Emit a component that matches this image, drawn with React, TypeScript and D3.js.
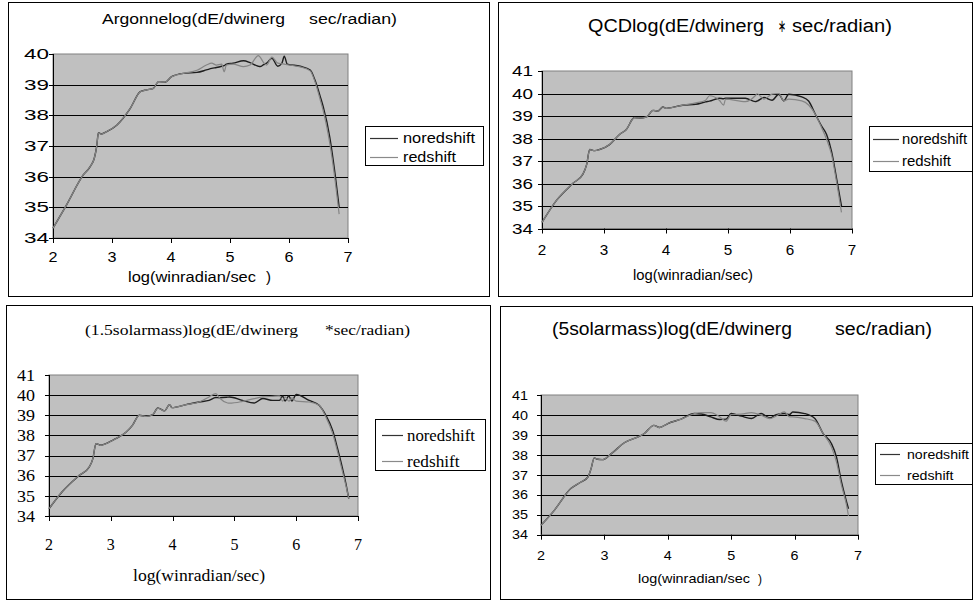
import React from 'react'
import * as d3 from 'd3'

// shared axis values
const xTicks = [2, 3, 4, 5, 6, 7]
const yTicks40 = [34, 35, 36, 37, 38, 39, 40]
const yTicks41 = [34, 35, 36, 37, 38, 39, 40, 41]
const seriesNames = ['noredshift', 'redshift']

// Argonne
const xs1 = [2.0, 2.23, 2.51, 2.63, 2.7, 2.74, 2.77, 2.82, 2.91, 3.08, 3.31, 3.48, 3.59, 3.7, 3.79, 3.9, 4.01, 4.21, 4.44, 4.6, 4.69, 4.77, 4.86, 4.9, 4.94, 5.05, 5.23, 5.34, 5.48, 5.51, 5.57, 5.62, 5.71, 5.81, 5.88, 5.92, 5.97, 6.19, 6.36, 6.44, 6.53, 6.58, 6.69, 6.78, 6.85]
const noRed1 = [34.32, 35.08, 36.05, 36.33, 36.6, 36.98, 37.43, 37.39, 37.47, 37.68, 38.23, 38.77, 38.83, 38.88, 39.1, 39.08, 39.26, 39.37, 39.4, 39.48, 39.53, 39.56, 39.6, 39.62, 39.67, 39.7, 39.78, 39.72, 39.6, 39.59, 39.65, 39.7, 39.86, 39.6, 39.7, 39.93, 39.67, 39.6, 39.48, 39.15, 38.61, 38.28, 37.3, 36.1, 35.0]
const red1 = [34.32, 35.08, 36.05, 36.33, 36.6, 36.98, 37.43, 37.39, 37.47, 37.68, 38.23, 38.77, 38.83, 38.88, 39.1, 39.08, 39.26, 39.37, 39.47, 39.64, 39.7, 39.64, 39.67, 39.42, 39.64, 39.67, 39.59, 39.64, 39.95, 39.9, 39.72, 39.64, 39.9, 39.7, 39.68, 39.67, 39.65, 39.58, 39.45, 39.1, 38.5, 38.15, 37.1, 35.9, 34.78]

// QCD
const xs2 = [2.0, 2.24, 2.5, 2.66, 2.72, 2.77, 2.85, 2.93, 3.09, 3.25, 3.36, 3.49, 3.57, 3.69, 3.79, 3.87, 3.95, 4.0, 4.27, 4.48, 4.64, 4.7, 4.86, 4.93, 4.96, 5.28, 5.44, 5.47, 5.58, 5.71, 5.82, 5.9, 5.98, 6.19, 6.3, 6.41, 6.51, 6.59, 6.67, 6.75, 6.83]
const noRed2 = [34.27, 35.27, 36.01, 36.42, 36.84, 37.51, 37.46, 37.51, 37.73, 38.18, 38.4, 38.93, 38.9, 38.96, 39.25, 39.22, 39.4, 39.34, 39.48, 39.52, 39.63, 39.66, 39.79, 39.77, 39.79, 39.79, 39.64, 39.66, 39.82, 39.7, 39.97, 39.67, 39.97, 39.85, 39.67, 39.07, 38.55, 38.18, 37.43, 36.24, 35.0]
const red2 = [34.27, 35.27, 36.01, 36.42, 36.84, 37.51, 37.46, 37.51, 37.73, 38.18, 38.4, 38.93, 38.9, 38.96, 39.25, 39.22, 39.4, 39.34, 39.48, 39.58, 39.7, 39.9, 39.7, 39.48, 39.75, 39.64, 39.9, 39.99, 39.75, 39.97, 40.0, 39.67, 39.75, 39.67, 39.49, 39.07, 38.48, 37.96, 37.28, 36.09, 34.72]

// 1.5 solar mass
const xs3 = [2.0, 2.22, 2.49, 2.65, 2.71, 2.76, 2.84, 2.92, 3.08, 3.25, 3.35, 3.46, 3.57, 3.68, 3.76, 3.87, 3.95, 3.99, 4.22, 4.43, 4.59, 4.7, 4.76, 4.89, 4.92, 5.13, 5.32, 5.46, 5.62, 5.73, 5.78, 5.82, 5.88, 5.93, 6.0, 6.21, 6.37, 6.48, 6.59, 6.67, 6.75, 6.81, 6.85]
const noRed3 = [34.36, 35.23, 36.02, 36.43, 36.85, 37.59, 37.51, 37.59, 37.84, 38.17, 38.5, 39.0, 38.95, 39.03, 39.36, 39.22, 39.53, 39.38, 39.53, 39.66, 39.74, 39.88, 39.87, 39.9, 39.91, 39.74, 39.61, 39.83, 39.74, 39.74, 39.96, 39.71, 39.96, 39.71, 40.03, 39.74, 39.5, 39.0, 38.25, 37.34, 36.35, 35.52, 34.86]
const red3 = [34.36, 35.23, 36.02, 36.43, 36.85, 37.59, 37.51, 37.59, 37.84, 38.17, 38.5, 39.0, 38.95, 39.03, 39.36, 39.22, 39.53, 39.38, 39.53, 39.66, 39.91, 40.08, 39.86, 39.61, 39.6, 39.69, 39.83, 39.91, 39.94, 39.96, 39.7, 39.91, 39.7, 39.86, 39.7, 39.66, 39.5, 38.92, 38.09, 37.18, 36.19, 35.44, 34.86]

// 5 solar mass
const xs4 = [2.0, 2.21, 2.47, 2.63, 2.74, 2.79, 2.84, 2.89, 2.97, 3.11, 3.32, 3.53, 3.63, 3.78, 3.87, 4.0, 4.21, 4.42, 4.53, 4.68, 4.82, 4.92, 5.0, 5.16, 5.32, 5.47, 5.61, 5.71, 5.84, 5.92, 5.97, 6.16, 6.32, 6.45, 6.58, 6.66, 6.74, 6.82, 6.85]
const noRed4 = [34.47, 35.22, 36.31, 36.64, 36.89, 37.31, 37.85, 37.78, 37.76, 38.06, 38.62, 38.9, 39.07, 39.48, 39.37, 39.57, 39.79, 40.07, 40.05, 39.9, 39.77, 39.79, 40.07, 39.94, 39.82, 40.07, 39.85, 40.02, 40.07, 40.02, 40.15, 40.07, 39.82, 39.07, 38.57, 37.9, 36.64, 35.64, 35.3]
const red4 = [34.47, 35.22, 36.31, 36.64, 36.89, 37.31, 37.85, 37.78, 37.76, 38.06, 38.62, 38.9, 39.07, 39.48, 39.37, 39.57, 39.79, 40.07, 40.12, 40.12, 39.9, 39.69, 40.02, 40.04, 40.12, 39.99, 39.82, 39.95, 40.15, 39.9, 39.9, 39.82, 39.69, 39.07, 38.4, 37.65, 36.47, 35.47, 34.94]

const SANS = 'Liberation Sans, Arial, sans-serif'
const SERIF = 'Liberation Serif, Times New Roman, serif'

interface Piece { text: string; x: number; w: number }
interface PanelCfg {
    frame: number[]
    plot: number[]
    yTicks: number[]
    xs: number[]
    noRed: number[]
    red: number[]
    font: string
    title: Piece[]
    titleY: number
    titleSize: number
    tickSize: number
    yLabelRight: number
    yLabelW: number
    xLabelW: number
    xTickY: number
    xLabel: Piece[]
    xLabelY: number
    xLabelSize: number
    legend: number[]
    legendRows: number[]
    legendLine: number[]
    legendTextX: number
    legendW: number[]
    legendSize: number
}

const panels: PanelCfg[] = [
    {
        frame: [8.5, 2.5, 489.5, 296.5], plot: [53, 54, 348, 238], yTicks: yTicks40,
        xs: xs1, noRed: noRed1, red: red1, font: SANS,
        title: [{ text: 'Argonnelog(dE/dwinerg', x: 102, w: 183 }, { text: 'sec/radian)', x: 309, w: 88 }],
        titleY: 24, titleSize: 14, tickSize: 14, yLabelRight: 49, yLabelW: 25, xLabelW: 9, xTickY: 262,
        xLabel: [{ text: 'log(winradian/sec', x: 128, w: 128 }, { text: ')', x: 266, w: 5 }], xLabelY: 282, xLabelSize: 14,
        legend: [365.5, 126.5, 483.5, 165.5], legendRows: [137.7, 156.7], legendLine: [370, 398], legendTextX: 403,
        legendW: [72, 53], legendSize: 14,
    },
    {
        frame: [498.5, 2.5, 972.5, 296.5], plot: [542, 71, 852, 228.5], yTicks: yTicks41,
        xs: xs2, noRed: noRed2, red: red2, font: SANS,
        title: [{ text: 'QCDlog(dE/dwinerg', x: 588, w: 176 }, { text: '∗', x: 778, w: 8 }, { text: 'sec/radian)', x: 792, w: 100 }],
        titleY: 32, titleSize: 18, tickSize: 14, yLabelRight: 533, yLabelW: 21, xLabelW: 8.5, xTickY: 255,
        xLabel: [{ text: 'log(winradian/sec)', x: 633, w: 120 }], xLabelY: 280, xLabelSize: 14,
        legend: [869.5, 126.5, 972.5, 171.5], legendRows: [139, 161], legendLine: [873, 899], legendTextX: 902,
        legendW: [65, 49], legendSize: 14,
    },
    {
        frame: [6.5, 305.5, 490.5, 599.5], plot: [49, 375, 358, 516], yTicks: yTicks41,
        xs: xs3, noRed: noRed3, red: red3, font: SERIF,
        title: [{ text: '(1.5solarmass)log(dE/dwinerg', x: 85, w: 213 }, { text: '*sec/radian)', x: 325, w: 85 }],
        titleY: 335, titleSize: 15, tickSize: 16, yLabelRight: 35, yLabelW: 18, xLabelW: 8, xTickY: 550,
        xLabel: [{ text: 'log(winradian/sec)', x: 133, w: 132 }], xLabelY: 581, xLabelSize: 16,
        legend: [375.5, 419.5, 485.5, 470.5], legendRows: [435, 461], legendLine: [382, 403], legendTextX: 407,
        legendW: [68, 52.5], legendSize: 16,
    },
    {
        frame: [500.5, 306.5, 972.5, 599.5], plot: [541, 395, 858, 534.7], yTicks: yTicks41,
        xs: xs4, noRed: noRed4, red: red4, font: SANS,
        title: [{ text: '(5solarmass)log(dE/dwinerg', x: 552, w: 240 }, { text: 'sec/radian)', x: 835, w: 97 }],
        titleY: 335, titleSize: 18, tickSize: 13, yLabelRight: 528, yLabelW: 16, xLabelW: 8, xTickY: 560,
        xLabel: [{ text: 'log(winradian/sec', x: 638, w: 112 }, { text: ')', x: 758, w: 4 }], xLabelY: 583, xLabelSize: 13.5,
        legend: [875.5, 443.5, 972.5, 484.5], legendRows: [454.3, 475], legendLine: [880, 900], legendTextX: 907,
        legendW: [62, 46.5], legendSize: 13,
    },
]

const Panel: React.FC<{ cfg: PanelCfg }> = ({ cfg }) => {
    const [px0, py0, px1, py1] = cfg.plot
    const yMax = cfg.yTicks[cfg.yTicks.length - 1]
    const x = d3.scaleLinear().domain([2, 7]).range([px0, px1])
    const y = d3.scaleLinear().domain([34, yMax]).range([py1, py0])

    const line = d3
        .line<number>()
        .x((_, i) => x(cfg.xs[i]))
        .y((d) => y(d))
        .curve(d3.curveMonotoneX)

    const [fx0, fy0, fx1, fy1] = cfg.frame
    const [lx0, ly0, lx1, ly1] = cfg.legend
    const lineColors = ['#1e1e1e', '#858585']

    return (
        <g fontFamily={cfg.font} fill="#000">
            <rect x={fx0} y={fy0} width={fx1 - fx0} height={fy1 - fy0} fill="#fff" stroke="#000" strokeWidth={1} />

            {cfg.title.map((p) => (
                <text key={p.text} x={p.x} y={cfg.titleY} fontSize={cfg.titleSize} textLength={p.w} lengthAdjust="spacingAndGlyphs">
                    {p.text}
                </text>
            ))}

            {/* plot area */}
            <rect x={px0} y={py0} width={px1 - px0} height={py1 - py0} fill="#c0c0c0" stroke="#808080" strokeWidth={1} />
            {cfg.yTicks.slice(1, -1).map((t) => (
                <line key={t} x1={px0} x2={px1} y1={Math.round(y(t)) + 0.5} y2={Math.round(y(t)) + 0.5} stroke="#000" strokeWidth={1} />
            ))}

            {/* axes */}
            <line x1={px0 + 0.5} x2={px0 + 0.5} y1={py0} y2={py1} stroke="#000" />
            <line x1={px0} x2={px1} y1={Math.round(py1) + 0.5} y2={Math.round(py1) + 0.5} stroke="#000" />
            {cfg.yTicks.map((t) => (
                <g key={t}>
                    <line x1={px0 - 4} x2={px0} y1={Math.round(y(t)) + 0.5} y2={Math.round(y(t)) + 0.5} stroke="#000" />
                    <text
                        x={cfg.yLabelRight}
                        y={y(t)}
                        dy="0.36em"
                        textAnchor="end"
                        fontSize={cfg.tickSize}
                        textLength={cfg.yLabelW}
                        lengthAdjust="spacingAndGlyphs"
                    >
                        {t}
                    </text>
                </g>
            ))}
            {xTicks.map((t) => (
                <g key={t}>
                    <line x1={Math.round(x(t)) + 0.5} x2={Math.round(x(t)) + 0.5} y1={py1} y2={py1 + 5} stroke="#000" />
                    <text
                        x={x(t) - cfg.xLabelW / 2}
                        y={cfg.xTickY}
                        fontSize={cfg.tickSize}
                        textLength={cfg.xLabelW}
                        lengthAdjust="spacingAndGlyphs"
                    >
                        {t}
                    </text>
                </g>
            ))}

            {/* series */}
            <path d={line(cfg.noRed) || ''} fill="none" stroke={lineColors[0]} strokeWidth={1.4} />
            <path d={line(cfg.red) || ''} fill="none" stroke={lineColors[1]} strokeWidth={1.2} />

            {cfg.xLabel.map((p) => (
                <text key={p.text} x={p.x} y={cfg.xLabelY} fontSize={cfg.xLabelSize} textLength={p.w} lengthAdjust="spacingAndGlyphs">
                    {p.text}
                </text>
            ))}

            {/* legend */}
            <rect x={lx0} y={ly0} width={lx1 - lx0} height={ly1 - ly0} fill="#fff" stroke="#000" />
            {seriesNames.map((name, i) => (
                <g key={name}>
                    <line
                        x1={cfg.legendLine[0]}
                        x2={cfg.legendLine[1]}
                        y1={Math.round(cfg.legendRows[i]) + 0.5}
                        y2={Math.round(cfg.legendRows[i]) + 0.5}
                        stroke={i === 0 ? '#333' : '#8a8a8a'}
                        strokeWidth={1.2}
                    />
                    <text
                        x={cfg.legendTextX}
                        y={cfg.legendRows[i]}
                        dy="0.36em"
                        fontSize={cfg.legendSize}
                        textLength={cfg.legendW[i]}
                        lengthAdjust="spacingAndGlyphs"
                    >
                        {name}
                    </text>
                </g>
            ))}
        </g>
    )
}

const App: React.FC = () => {
    return (
        <svg
            width={973}
            height={602}
            style={{ position: 'absolute', left: 0, top: 0, background: '#fff' }}
        >
            {panels.map((p, i) => (
                <Panel key={i} cfg={p} />
            ))}
        </svg>
    )
}

export default App
